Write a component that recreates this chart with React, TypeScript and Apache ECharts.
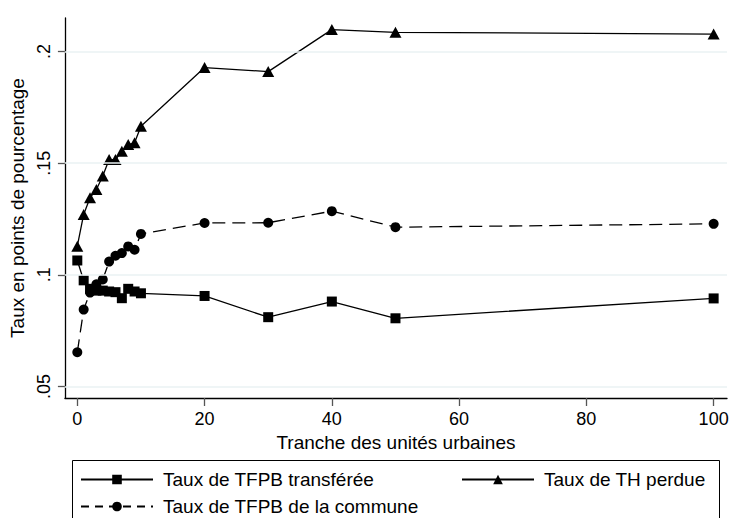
import React, { useEffect, useRef } from "react";
import * as echarts from "echarts";

const xValues = [0, 1, 2, 3, 4, 5, 6, 7, 8, 9, 10, 20, 30, 40, 50, 100];
const tfpbTransferee = [0.1064, 0.0975, 0.0937, 0.0929, 0.0929, 0.0925, 0.0922, 0.0895, 0.0937, 0.0925, 0.0917, 0.0905, 0.081, 0.088, 0.0805, 0.0894];
const thPerdue = [0.1128, 0.127, 0.1345, 0.1382, 0.1442, 0.1516, 0.1516, 0.1553, 0.1583, 0.1591, 0.1665, 0.1928, 0.191, 0.2098, 0.2086, 0.2078];
const tfpbCommune = [0.0653, 0.0844, 0.092, 0.0957, 0.0979, 0.1059, 0.1085, 0.1097, 0.1127, 0.1112, 0.1183, 0.1232, 0.1233, 0.1285, 0.1213, 0.1228];
const xTicks = [0, 20, 40, 60, 80, 100];
const yTicks = [0.05, 0.1, 0.15, 0.2];
const seriesNames = ["Taux de TFPB transférée", "Taux de TH perdue", "Taux de TFPB de la commune"];
const xTitle = "Tranche des unités urbaines";
const yTitle = "Taux en points de pourcentage";

const FONT = "Liberation Sans, Arial, sans-serif";

export default function App() {
  const ref = useRef<HTMLDivElement>(null);
  useEffect(() => {
    if (!ref.current) return;
    const chart = echarts.init(ref.current, undefined, { renderer: "svg" });
    const pairs = (ys: number[]) => xValues.map((x, i) => [x, ys[i]]);
    const fmtY = (v: number) => String(v).replace(/^0/, "");
    const legendCommon = {
      orient: "horizontal" as const,
      padding: 0,
      itemWidth: 72,
      itemHeight: 12,
      textStyle: { fontFamily: FONT, fontSize: 19, color: "#000", padding: [0, 0, 0, 5] },
      selectedMode: false,
    };
    chart.setOption({
      animation: false,
      backgroundColor: "#fff",
      grid: { left: 64, top: 18, width: 663, height: 380, containLabel: false },
      xAxis: {
        type: "value",
        min: -1.95,
        max: 102.1,
        name: xTitle,
        nameLocation: "middle",
        nameGap: 31,
        nameTextStyle: { fontFamily: FONT, fontSize: 19, color: "#000" },
        axisLine: { show: true, onZero: false, lineStyle: { color: "#000", width: 1.3 } },
        axisTick: { show: true, length: 8, customValues: xTicks, lineStyle: { color: "#555", width: 1.3 } },
        axisLabel: { customValues: xTicks, fontFamily: FONT, fontSize: 18, color: "#000", margin: 12 },
        splitLine: { show: false },
      },
      yAxis: {
        type: "value",
        min: 0.0448,
        max: 0.215,
        name: yTitle,
        nameLocation: "middle",
        nameGap: 34,
        nameTextStyle: { fontFamily: FONT, fontSize: 19, color: "#000" },
        axisLine: { show: true, onZero: false, lineStyle: { color: "#000", width: 1.3 } },
        axisTick: { show: true, length: 7, customValues: yTicks, lineStyle: { color: "#555", width: 1.3 } },
        axisLabel: { customValues: yTicks, rotate: 90, fontFamily: FONT, fontSize: 18, color: "#000", margin: 12, formatter: fmtY },
        splitLine: { show: false },
      },
      legend: [
        { ...legendCommon, data: [seriesNames[0]], left: 80, top: 470 },
        { ...legendCommon, data: [seriesNames[1]], left: 461, top: 470 },
        { ...legendCommon, data: [seriesNames[2]], left: 80, top: 497, lineStyle: { type: [8, 6] } },
      ],
      graphic: [
        { type: "rect", shape: { x: 72.5, y: 460.5, width: 647, height: 62 }, style: { fill: "none", stroke: "#000", lineWidth: 1 }, silent: true },
      ],
      series: [
        {
          type: "line",
          name: "grid",
          data: [],
          silent: true,
          z: 1,
          markLine: {
            silent: true,
            symbol: "none",
            label: { show: false },
            lineStyle: { color: "#eaf2f3", width: 1.5, type: "solid" },
            data: yTicks.map((v) => ({ yAxis: v })),
          },
        },
        {
          type: "line",
          name: seriesNames[0],
          data: pairs(tfpbTransferee),
          symbol: "rect",
          symbolSize: 10,
          lineStyle: { color: "#000", width: 1.3 },
          itemStyle: { color: "#000" },
          z: 3,
        },
        {
          type: "line",
          name: seriesNames[1],
          data: pairs(thPerdue),
          symbol: "triangle",
          symbolSize: [12, 11],
          lineStyle: { color: "#000", width: 1.3 },
          itemStyle: { color: "#000" },
          z: 3,
        },
        {
          type: "line",
          name: seriesNames[2],
          data: pairs(tfpbCommune),
          symbol: "circle",
          symbolSize: 10,
          lineStyle: { color: "#000", width: 1.3, type: [13, 7] },
          itemStyle: { color: "#000" },
          z: 3,
        },
      ],
    });
    return () => chart.dispose();
  }, []);
  return <div ref={ref} style={{ position: "fixed", left: 0, top: 0, width: 732, height: 518 }} />;
}
